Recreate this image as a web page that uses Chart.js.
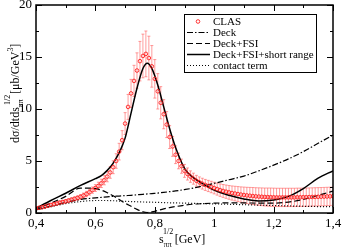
<!DOCTYPE html>
<html>
<head>
<meta charset="utf-8">
<script src="https://cdn.jsdelivr.net/npm/chart.js@4.4.1/dist/chart.umd.min.js"></script>
<style>
  html, body { margin: 0; padding: 0; background: #fff; }
</style>
</head>
<body>
<canvas id="c" width="342" height="249"></canvas>
<script>
// CLAS data points (s^1/2 in GeV, cross section, error)
const clasX = [0.40, 0.41, 0.42, 0.43, 0.44, 0.45, 0.46, 0.47, 0.48, 0.49,
  0.50, 0.51, 0.52, 0.53, 0.54, 0.55, 0.56, 0.57, 0.58, 0.59,
  0.60, 0.61, 0.62, 0.63, 0.64, 0.65, 0.66, 0.67, 0.68, 0.69,
  0.70, 0.71, 0.72, 0.73, 0.74, 0.75, 0.76, 0.77, 0.78, 0.79,
  0.80, 0.81, 0.82, 0.83, 0.84, 0.85, 0.86, 0.87, 0.88, 0.89,
  0.90, 0.91, 0.92, 0.93, 0.94, 0.95, 0.96, 0.97, 0.98, 0.99,
  1.00, 1.01, 1.02, 1.03, 1.04, 1.05, 1.06, 1.07, 1.08, 1.09,
  1.10, 1.11, 1.12, 1.13, 1.14, 1.15, 1.16, 1.17, 1.18, 1.19,
  1.20, 1.21, 1.22, 1.23, 1.24, 1.25, 1.26, 1.27, 1.28, 1.29,
  1.30, 1.31, 1.32, 1.33, 1.34, 1.35, 1.36, 1.37, 1.38, 1.39, 1.40];
const clasY = [0.45, 0.50, 0.55, 0.62, 0.70, 0.78, 0.85, 0.92, 1.00, 1.06,
  1.12, 1.20, 1.28, 1.36, 1.45, 1.55, 1.68, 1.82, 2.00, 2.20,
  2.40, 2.60, 2.85, 3.15, 3.50, 3.90, 4.40, 5.00, 5.90, 7.00,
  8.60, 10.2, 11.5, 12.7, 13.7, 14.6, 15.1, 15.3, 14.9, 14.1,
  12.9, 11.7, 10.6, 9.5, 8.5, 7.3, 6.4, 5.6, 5.0, 4.5,
  4.05, 3.75, 3.5, 3.3, 3.1, 2.95, 2.82, 2.7, 2.6, 2.5,
  2.4, 2.3, 2.2, 2.12, 2.05, 1.98, 1.92, 1.87, 1.82, 1.77,
  1.73, 1.69, 1.66, 1.63, 1.6, 1.58, 1.56, 1.54, 1.53, 1.52,
  1.51, 1.5, 1.5, 1.5, 1.5, 1.5, 1.5, 1.5, 1.51, 1.51,
  1.52, 1.52, 1.53, 1.54, 1.55, 1.56, 1.57, 1.58, 1.59, 1.6, 1.62];
const clasErr = [0.1, 0.1, 0.1, 0.1, 0.12, 0.12, 0.12, 0.14, 0.14, 0.15,
  0.16, 0.17, 0.18, 0.19, 0.2, 0.22, 0.24, 0.26, 0.28, 0.3,
  0.33, 0.36, 0.4, 0.44, 0.5, 0.56, 0.62, 0.7, 0.8, 0.92,
  1.05, 1.2, 1.35, 1.5, 1.7, 1.9, 2.1, 2.2, 2.1, 2.0,
  1.85, 1.7, 1.55, 1.4, 1.25, 1.1, 0.95, 0.85, 0.75, 0.68,
  0.62, 0.58, 0.55, 0.53, 0.52, 0.52, 0.52, 0.53, 0.54, 0.55,
  0.56, 0.58, 0.6, 0.62, 0.64, 0.66, 0.68, 0.7, 0.72, 0.74,
  0.76, 0.78, 0.8, 0.82, 0.83, 0.84, 0.85, 0.86, 0.87, 0.88,
  0.88, 0.88, 0.88, 0.88, 0.88, 0.88, 0.88, 0.88, 0.88, 0.88,
  0.88, 0.88, 0.88, 0.88, 0.88, 0.88, 0.88, 0.88, 0.88, 0.88, 0.88];

// model curves
const curveX = [0.40, 0.45, 0.50, 0.55, 0.60, 0.62, 0.64, 0.66, 0.68, 0.70,
  0.72, 0.74, 0.76, 0.775, 0.79, 0.81, 0.83, 0.85, 0.87, 0.90,
  0.93, 0.96, 1.00, 1.05, 1.10, 1.15, 1.20, 1.25, 1.30, 1.35, 1.40];
const deck = [0.3, 0.65, 1.0, 1.3, 1.45, 1.5, 1.55, 1.6, 1.63, 1.67,
  1.7, 1.75, 1.8, 1.83, 1.87, 1.92, 1.98, 2.05, 2.12, 2.25,
  2.4, 2.6, 2.85, 3.2, 3.55, 4.05, 4.6, 5.2, 5.9, 6.7, 7.5];
const deckFsi = [0.35, 0.95, 1.6, 2.4, 2.35, 2.2, 1.95, 1.65, 1.3, 0.95,
  0.65, 0.35, 0.12, 0.05, 0.1, 0.25, 0.4, 0.52, 0.62, 0.75,
  0.85, 0.9, 0.95, 0.97, 0.97, 0.95, 0.95, 1.05, 1.3, 1.7, 2.1];
const deckFsiShort = [0.45, 1.2, 1.9, 2.65, 3.3, 3.6, 4.1, 4.8, 5.8, 7.2,
  9.6, 12.0, 13.9, 14.4, 13.9, 12.3, 10.2, 8.1, 6.3, 4.3,
  3.4, 2.85, 2.2, 1.7, 1.35, 1.15, 1.25, 1.6, 2.35, 3.35, 4.05];
const contact = [0.3, 0.6, 0.9, 1.1, 1.2, 1.2, 1.2, 1.18, 1.15, 1.12,
  1.1, 1.08, 1.06, 1.05, 1.04, 1.02, 1.0, 0.98, 0.97, 0.95,
  0.93, 0.9, 0.88, 0.84, 0.8, 0.76, 0.72, 0.68, 0.65, 0.62, 0.6];

const xTicks = [0.4, 0.6, 0.8, 1.0, 1.2, 1.4];
const xTickLabels = ['0,4', '0,6', '0,8', '1', '1,2', '1,4'];
const yTicks = [0, 5, 10, 15, 20];
const yTickLabels = ['0', '5', '10', '15', '20'];

const FONT = 'Liberation Serif';
const pts = (xs, ys) => xs.map((x, i) => ({ x: x, y: ys[i] }));

const curve = (label, ys, dash, width) => ({
  label: label,
  data: pts(curveX, ys),
  borderColor: '#000',
  borderWidth: width,
  borderDash: dash,
  pointRadius: 0,
  fill: false,
  cubicInterpolationMode: 'monotone'
});

// error bars under the circles
const errorBars = {
  id: 'errorBars',
  beforeDatasetsDraw(chart) {
    const ctx = chart.ctx;
    const ys = chart.scales.y;
    const meta = chart.getDatasetMeta(0);
    const a = chart.chartArea;
    ctx.save();
    ctx.beginPath();
    ctx.rect(a.left, a.top, a.right - a.left, a.bottom - a.top);
    ctx.clip();
    ctx.strokeStyle = 'rgba(255,90,90,0.6)';
    ctx.lineWidth = 1;
    meta.data.forEach((pt, i) => {
      const top = ys.getPixelForValue(clasY[i] + clasErr[i]);
      const bot = ys.getPixelForValue(clasY[i] - clasErr[i]);
      ctx.beginPath();
      ctx.moveTo(pt.x, top); ctx.lineTo(pt.x, bot);
      ctx.moveTo(pt.x - 1.5, top); ctx.lineTo(pt.x + 1.5, top);
      ctx.moveTo(pt.x - 1.5, bot); ctx.lineTo(pt.x + 1.5, bot);
      ctx.stroke();
    });
    ctx.restore();
  }
};

function richText(ctx, parts, x, y, size) {
  let cx = x;
  parts.forEach(p => {
    const s = p.small ? size * 0.66 : size;
    ctx.font = s + 'px "' + FONT + '"';
    ctx.fillText(p.t, cx, y + (p.dy || 0));
    cx += ctx.measureText(p.t).width;
  });
}

const frame = {
  id: 'frame',
  afterDraw(chart) {
    const ctx = chart.ctx;
    const a = chart.chartArea;
    const xs = chart.scales.x, ys = chart.scales.y;
    ctx.save();
    ctx.strokeStyle = '#000';
    ctx.lineWidth = 1.5;
    ctx.strokeRect(a.left, a.top, a.right - a.left, a.bottom - a.top);
    ctx.lineWidth = 1;
    ctx.beginPath();
    for (let k = 0; k <= 10; k++) {
      const v = 0.4 + k * 0.1;
      const px = Math.round(xs.getPixelForValue(v)) + 0.5;
      const len = k % 2 === 0 ? 6 : 3;
      ctx.moveTo(px, a.bottom); ctx.lineTo(px, a.bottom - len);
      ctx.moveTo(px, a.top); ctx.lineTo(px, a.top + len);
    }
    for (let k = 0; k <= 8; k++) {
      const py = Math.round(ys.getPixelForValue(k * 2.5)) + 0.5;
      const len = k % 2 === 0 ? 6 : 3;
      ctx.moveTo(a.left, py); ctx.lineTo(a.left + len, py);
      ctx.moveTo(a.right, py); ctx.lineTo(a.right - len, py);
    }
    ctx.stroke();

    // axis titles
    ctx.fillStyle = '#000';
    ctx.textBaseline = 'alphabetic';
    richText(ctx, [
      { t: 's' },
      { t: 'ππ', small: true, dy: 4 },
      { t: ' [GeV]' }
    ], 159, 243, 12);
    ctx.font = '8px "' + FONT + '"';
    ctx.fillText('1/2', 163, 234);

    ctx.save();
    ctx.translate(19, 143);
    ctx.rotate(-Math.PI / 2);
    richText(ctx, [
      { t: 'dσ/dtds' },
      { t: 'ππ', small: true, dy: 4 }
    ], 0, 0, 12);
    ctx.font = '8px "' + FONT + '"';
    ctx.fillText('1/2', 38, -9);
    richText(ctx, [
      { t: ' [μb/GeV' },
      { t: '3', small: true, dy: -6 },
      { t: ']' }
    ], 46, 0, 12);
    ctx.restore();

    // legend box
    const lx = 184.5, ly = 14.5, lw = 132, lh = 58;
    ctx.fillStyle = '#fff';
    ctx.fillRect(lx, ly, lw, lh);
    ctx.strokeStyle = '#000';
    ctx.lineWidth = 1;
    ctx.strokeRect(lx, ly, lw, lh);
    ctx.font = '11px "' + FONT + '"';
    ctx.textBaseline = 'middle';
    chart.data.datasets.forEach((ds, i) => {
      const y = 21.5 + i * 11;
      if (i === 0) {
        ctx.beginPath();
        ctx.strokeStyle = ds.borderColor;
        ctx.lineWidth = 1;
        ctx.arc(198, y, 1.8, 0, Math.PI * 2);
        ctx.stroke();
      } else {
        ctx.beginPath();
        ctx.strokeStyle = ds.borderColor;
        ctx.lineWidth = ds.borderWidth;
        ctx.setLineDash(ds.borderDash || []);
        ctx.moveTo(187, y); ctx.lineTo(210, y);
        ctx.stroke();
        ctx.setLineDash([]);
      }
      ctx.fillStyle = '#000';
      ctx.fillText(ds.label, 213, y + 0.5);
    });
    ctx.restore();
  }
};

new Chart(document.getElementById('c'), {
  type: 'line',
  data: {
    datasets: [
      {
        label: 'CLAS',
        data: pts(clasX, clasY),
        showLine: false,
        borderColor: 'rgba(255,30,30,0.9)',
        backgroundColor: 'rgba(0,0,0,0)',
        pointRadius: 1.8,
        pointBorderWidth: 1,
        pointStyle: 'circle'
      },
      curve('Deck', deck, [6, 2, 1.5, 2], 1.2),
      curve('Deck+FSI', deckFsi, [6, 3], 1.2),
      curve('Deck+FSI+short range', deckFsiShort, [], 1.5),
      curve('contact term', contact, [1, 2], 1.2)
    ]
  },
  options: {
    responsive: false,
    animation: false,
    layout: { padding: { top: 5, right: 9, left: 0, bottom: 0 } },
    plugins: { legend: { display: false }, tooltip: { enabled: false } },
    scales: {
      x: {
        type: 'linear',
        min: 0.4,
        max: 1.4,
        grid: { display: false, drawTicks: false },
        border: { display: false },
        afterBuildTicks: (s) => { s.ticks = xTicks.map(v => ({ value: v })); },
        afterFit: (s) => { s.height = 36; s.paddingLeft = 0; s.paddingRight = 0; },
        ticks: {
          padding: 3,
          color: '#000',
          font: { family: FONT, size: 13 },
          callback: (v, i) => xTickLabels[i]
        }
      },
      y: {
        min: 0,
        max: 20,
        grid: { display: false, drawTicks: false },
        border: { display: false },
        afterBuildTicks: (s) => { s.ticks = yTicks.map(v => ({ value: v })); },
        afterFit: (s) => { s.width = 36; s.paddingTop = 0; s.paddingBottom = 0; },
        ticks: {
          padding: 4,
          color: '#000',
          font: { family: FONT, size: 13 },
          callback: (v, i) => yTickLabels[i]
        }
      }
    }
  },
  plugins: [errorBars, frame]
});
</script>
</body>
</html>
